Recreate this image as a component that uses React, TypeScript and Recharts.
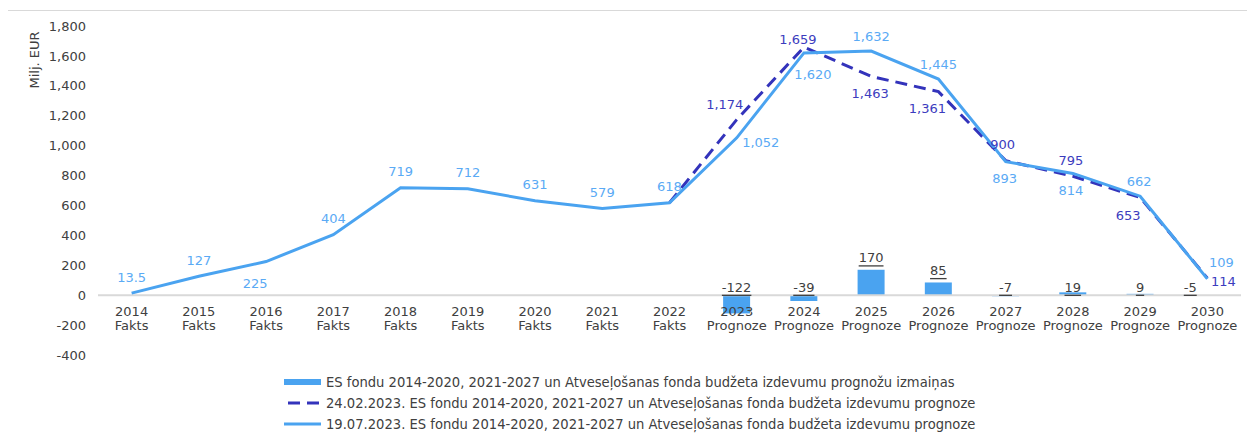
import React from 'react';
import { ComposedChart, Bar, Line, XAxis, YAxis, ReferenceLine, LabelList, Legend, Label } from 'recharts';

// categories
const years = ['2014', '2015', '2016', '2017', '2018', '2019', '2020', '2021', '2022', '2023', '2024', '2025', '2026', '2027', '2028', '2029', '2030'];
const periodKinds = ['Fakts', 'Fakts', 'Fakts', 'Fakts', 'Fakts', 'Fakts', 'Fakts', 'Fakts', 'Fakts', 'Prognoze', 'Prognoze', 'Prognoze', 'Prognoze', 'Prognoze', 'Prognoze', 'Prognoze', 'Prognoze'];

// series values (milj. EUR)
const forecastJul = [13.5, 127, 225, 404, 719, 712, 631, 579, 618, 1052, 1620, 1632, 1445, 893, 814, 662, 109];
const forecastFeb = [null, null, null, null, null, null, null, null, 618, 1174, 1659, 1463, 1361, 900, 795, 653, 114];
const forecastChange = [null, null, null, null, null, null, null, null, null, -122, -39, 170, 85, -7, 19, 9, -5];

const yTicks = [-400, -200, 0, 200, 400, 600, 800, 1000, 1200, 1400, 1600, 1800];

const seriesNames = [
  'ES fondu 2014-2020, 2021-2027 un Atveseļošanas fonda budžeta izdevumu prognožu izmaiņas',
  '24.02.2023. ES fondu 2014-2020, 2021-2027 un Atveseļošanas fonda budžeta izdevumu prognoze',
  '19.07.2023. ES fondu 2014-2020, 2021-2027 un Atveseļošanas fonda budžeta izdevumu prognoze',
];

// label placement (dx, dy of label centre from the point)
const julLabelShift: [number, number][] = [
  [0, -16], [0, -16], [-11, 22], [0, -16], [0, -16], [0, -16], [0, -16], [0, -16], [0, -16],
  [24, 5], [9, 22], [0, -15], [0, -15], [-1, 17], [-2, 17], [-1, -15], [14, -16],
];
const febLabelShift: ([number, number] | null)[] = [
  null, null, null, null, null, null, null, null, null,
  [-12, -15], [-6, -8], [-1, 17], [-11, 17], [-3, -16], [-2, -16], [-12, 18], [16, 3],
];
const barLabelDx: Record<string, number> = { '2030': -17 };

const data = years.map((year, i) => ({
  year,
  kind: periodKinds[i],
  change: forecastChange[i],
  feb: forecastFeb[i],
  jul: forecastJul[i],
}));

const FONT = '"DejaVu Sans", Verdana, sans-serif';
const LIGHT = '#4aa3f0';
const DARK = '#3333bb';
const LIGHT_TEXT = '#5aaaf5';
const DARK_TEXT = '#3c3cbe';
const AXIS_TEXT = '#404040';

const CHART_W = 1239;
const CHART_H = 424;
const MARGIN = { top: 15, right: 6, bottom: 50, left: 0 };
const X_AXIS_H = 30;
const Y_MIN = -400;
const Y_MAX = 1800;
const PLOT_H = CHART_H - MARGIN.top - MARGIN.bottom - X_AXIS_H;
const ZERO_SHIFT = (PLOT_H * (0 - Y_MIN)) / (Y_MAX - Y_MIN);

const fmt = (v: number) => v.toLocaleString('en-US');

const XTick = (props: any) => {
  const { x, y, payload } = props;
  const kind = periodKinds[payload.index];
  const base = y - ZERO_SHIFT + 21;
  return (
    <g>
      <text x={x} y={base} textAnchor="middle" fontFamily={FONT} fontSize={13} fill={AXIS_TEXT}>{payload.value}</text>
      <text x={x} y={base + 14} textAnchor="middle" fontFamily={FONT} fontSize={13} fill={AXIS_TEXT}>{kind}</text>
    </g>
  );
};

const makeLineLabel = (shifts: ([number, number] | null)[], color: string) => (props: any) => {
  const { x, y, value, index } = props;
  const s = shifts[index];
  if (value == null || !s) return null;
  return (
    <text x={x + s[0]} y={y + s[1]} textAnchor="middle" dominantBaseline="central" fontFamily={FONT} fontSize={13} fill={color}>
      {fmt(value)}
    </text>
  );
};

const BarLabel = (props: any) => {
  const { x, y, width, height, value } = props;
  if (value == null) return null;
  const zero = y + height;
  const top = Math.min(y, zero);
  const cy = value > 30 ? top - 12 : zero - 8;
  const year = years[forecastChange.indexOf(value)];
  const dx = barLabelDx[year] || 0;
  return (
    <text x={x + width / 2 + dx} y={cy} textAnchor="middle" dominantBaseline="central" fontFamily={FONT} fontSize={13} fill={AXIS_TEXT} style={{ textDecoration: 'underline' }}>
      {fmt(value)}
    </text>
  );
};

const LegendContent = () => {
  const icons = [
    <rect key="b" x={0} y={2} width={37} height={6} fill={LIGHT} />,
    <line key="d" x1={4} y1={5} x2={37} y2={5} stroke={DARK} strokeWidth={3} strokeDasharray="12 7" />,
    <line key="l" x1={0} y1={5} x2={37} y2={5} stroke={LIGHT} strokeWidth={3} />,
  ];
  return (
    <div style={{ fontFamily: '"DejaVu Sans Condensed", "DejaVu Sans", sans-serif', fontSize: 14.6, color: AXIS_TEXT }}>
      {seriesNames.map((name, i) => (
        <div key={name} style={{ display: 'flex', alignItems: 'center', height: 21, whiteSpace: 'nowrap' }}>
          <svg width={39} height={10} style={{ marginRight: 3 }}>{icons[i]}</svg>
          <span>{name}</span>
        </div>
      ))}
    </div>
  );
};

const YTitle = (props: any) => {
  const { viewBox } = props;
  const cx = viewBox.x + 26;
  const cy = viewBox.y + 34;
  return (
    <text x={cx} y={cy} transform={`rotate(-90, ${cx}, ${cy})`} textAnchor="middle" dominantBaseline="central" fontFamily={FONT} fontSize={13} fill={AXIS_TEXT}>
      Milj. EUR
    </text>
  );
};

export default function App() {
  return (
    <div style={{ position: 'relative', top: 2, left: -1, width: CHART_W + 2, height: 440, border: '1px solid #d9d9d9', boxSizing: 'border-box', background: '#fff' }}>
      <ComposedChart width={CHART_W} height={CHART_H} data={data} margin={MARGIN}>
        <ReferenceLine y={0} stroke="#d9d9d9" strokeWidth={2} />
        <XAxis dataKey="year" height={X_AXIS_H} axisLine={false} tickLine={false} tickSize={0} tickMargin={0} interval={0} tick={<XTick />} />
        <YAxis
          width={90}
          domain={[Y_MIN, Y_MAX]}
          ticks={yTicks}
          interval={0}
          axisLine={false}
          tickLine={false}
          tickSize={6}
          tickMargin={6}
          tickFormatter={fmt}
          tick={{ fontFamily: FONT, fontSize: 13, fill: AXIS_TEXT }}
          label={<Label content={<YTitle />} />}
        />
        <Bar dataKey="change" name={seriesNames[0]} fill={LIGHT} barSize={27} isAnimationActive={false}>
          <LabelList dataKey="change" content={<BarLabel />} />
        </Bar>
        <Line dataKey="feb" name={seriesNames[1]} stroke={DARK} strokeWidth={3} strokeDasharray="12 7" dot={false} activeDot={false} connectNulls={false} isAnimationActive={false}>
          <LabelList dataKey="feb" content={makeLineLabel(febLabelShift, DARK_TEXT)} />
        </Line>
        <Line dataKey="jul" name={seriesNames[2]} stroke={LIGHT} strokeWidth={3} dot={false} activeDot={false} isAnimationActive={false}>
          <LabelList dataKey="jul" content={makeLineLabel(julLabelShift, LIGHT_TEXT)} />
        </Line>
        <Legend layout="vertical" align="center" verticalAlign="middle" content={<LegendContent />} wrapperStyle={{ top: 360, left: 276, width: 'auto' }} />
      </ComposedChart>
    </div>
  );
}
